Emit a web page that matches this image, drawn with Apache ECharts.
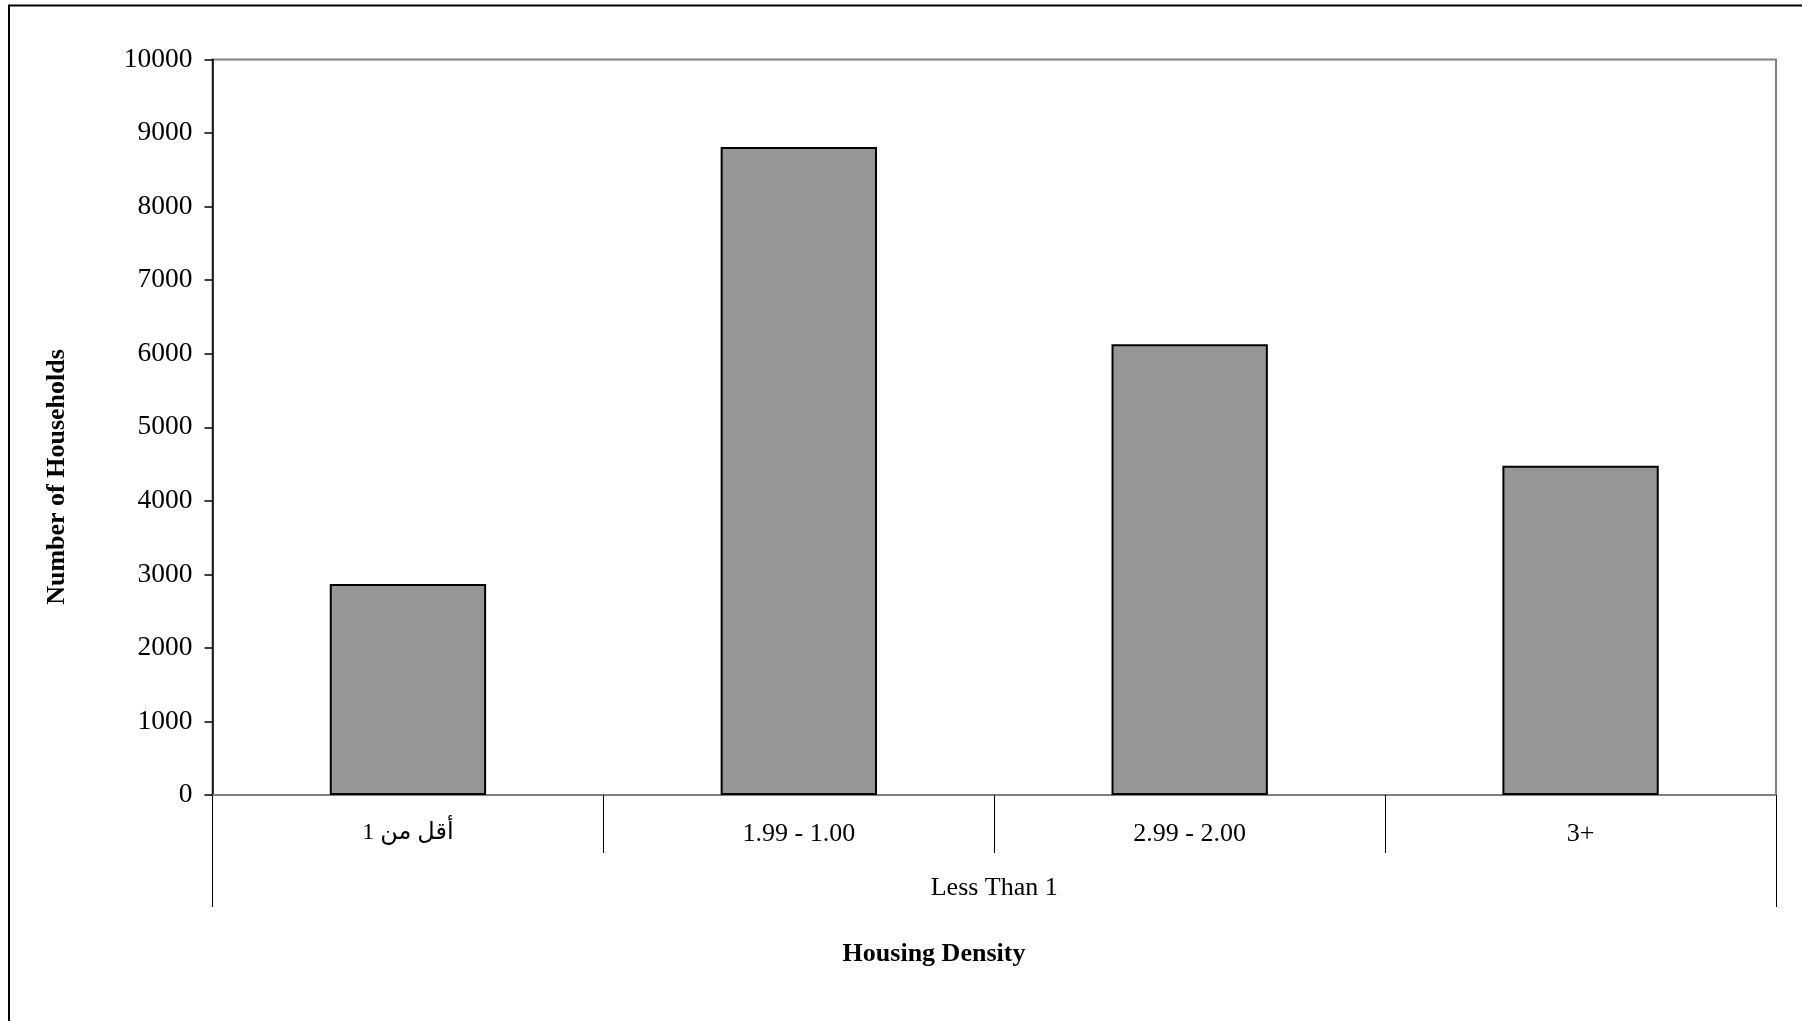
<!DOCTYPE html>
<html>
<head>
<meta charset="utf-8">
<style>html,body{margin:0;padding:0;background:#fff;}#c{width:1802px;height:1021px;}</style>
<script src="https://cdn.jsdelivr.net/npm/echarts@6/dist/echarts.min.js"></script>
</head>
<body>
<div id="c"></div>
<script>
const categories = ['\u202Bأقل من 1\u202C', '1.99 - 1.00', '2.99 - 2.00', '3+'];
const groupLabels = ['Less Than 1'];
const households = [2870, 8810, 6130, 4475];
const yTicks = { min: 0, max: 10000, interval: 1000 };
const xTitle = 'Housing Density';
const yTitle = 'Number of Households';

const FONT = '"Liberation Serif", "Times New Roman", "DejaVu Sans", serif';
const chart = echarts.init(document.getElementById('c'), null, { renderer: 'canvas' });
chart.setOption({
  animation: false,
  backgroundColor: '#fff',
  textStyle: { fontFamily: FONT, color: '#000' },
  grid: {
    left: 212.5, right: 26, top: 59.5, bottom: 226,
    show: true, borderColor: '#808080', borderWidth: 2, backgroundColor: 'transparent'
  },
  xAxis: [
    {
      type: 'category', data: categories, position: 'bottom',
      axisLine: { show: true, lineStyle: { color: '#808080', width: 2 } },
      axisTick: { show: true, interval: 0, length: 58, lineStyle: { color: '#000', width: 1 } },
      axisLabel: {
        interval: 0, margin: 26, fontSize: 26, fontFamily: FONT, color: '#000',
        formatter: function (v, i) { return i === 0 ? '{ar|' + v + '}' : v; },
        rich: { ar: { fontSize: 24, fontFamily: FONT, color: '#000' } }
      },
      splitLine: { show: false }
    },
    {
      type: 'category', data: groupLabels, position: 'bottom', gridIndex: 0,
      axisLine: { show: false },
      axisTick: { show: true, interval: 0, length: 112, lineStyle: { color: '#000', width: 1 } },
      axisLabel: { interval: 0, margin: 80, fontSize: 26, fontFamily: FONT, color: '#000' },
      splitLine: { show: false }
    }
  ],
  yAxis: {
    type: 'value', min: yTicks.min, max: yTicks.max, interval: yTicks.interval,
    axisLine: { show: true, lineStyle: { color: '#000', width: 1.5 } },
    axisTick: { show: true, inside: false, length: 8, lineStyle: { color: '#000', width: 1.5 } },
    axisLabel: { margin: 20, fontSize: 27.5, fontFamily: FONT, color: '#000',
      formatter: function (v) { return String(v); } },
    splitLine: { show: false }
  },
  series: [{
    type: 'bar', xAxisIndex: 0, yAxisIndex: 0, data: households,
    barWidth: '40%',
    itemStyle: { color: '#969696', borderColor: '#000', borderWidth: 2 }
  }],
  graphic: [
    { type: 'rect', silent: true, shape: { x: 9, y: 5.5, width: 3000, height: 3000 },
      style: { fill: 'none', stroke: '#000', lineWidth: 2 } },
    { type: 'text', x: 934, y: 954, silent: true,
      style: { text: xTitle, font: 'bold 26px ' + FONT, fill: '#000', textAlign: 'center', textVerticalAlign: 'middle' } },
    { type: 'text', x: 57.5, y: 477, rotation: Math.PI / 2, silent: true,
      style: { text: yTitle, font: 'bold 26px ' + FONT, fill: '#000', textAlign: 'center', textVerticalAlign: 'middle' } }
  ]
});
</script>
</body>
</html>
